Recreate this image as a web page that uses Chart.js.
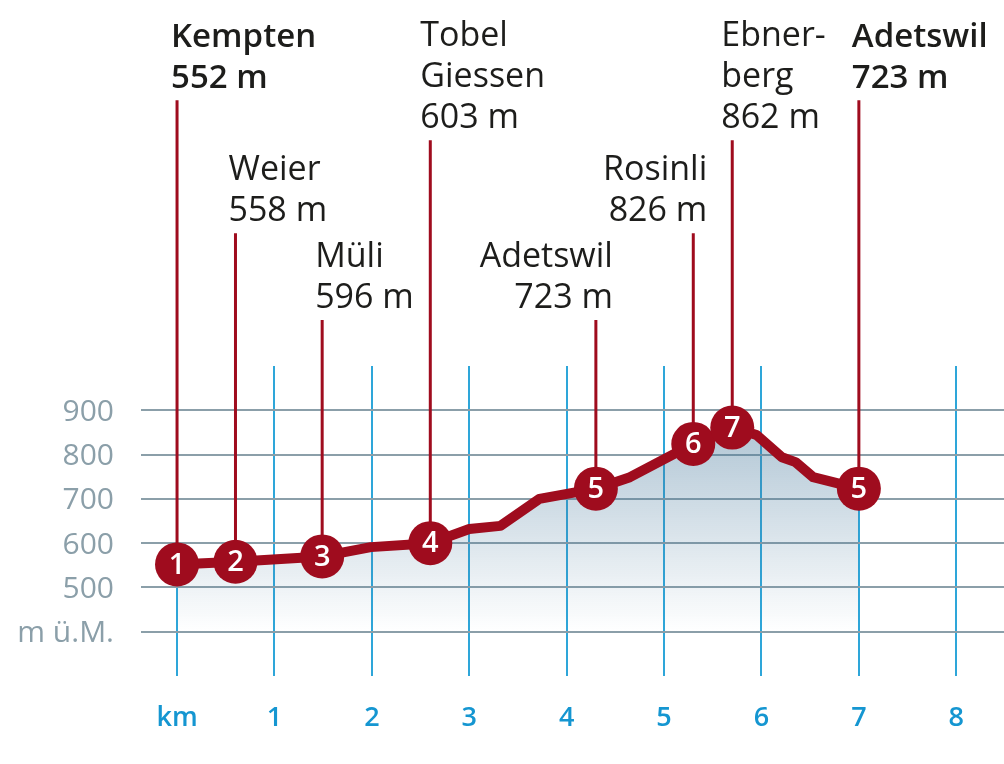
<!DOCTYPE html>
<html lang="de">
<head>
<meta charset="UTF-8">
<title>Höhenprofil Kempten – Adetswil</title>
<script src="https://cdn.jsdelivr.net/npm/chart.js"></script>
<style>
  html, body { margin:0; padding:0; background:#fff; }
  canvas { display:block; }
</style>
</head>
<body>
<canvas id="profile" width="1004" height="764"></canvas>
<script>
// profile line
const profileKm = [0, 0.6, 1.49, 1.99, 2.6, 3.0, 3.32, 3.72, 4.3, 4.65, 5.3, 5.7, 5.95, 6.21, 6.35, 6.53, 7];
const profileM  = [552, 558, 570, 591, 600, 632, 639, 700, 723, 749, 824, 861, 844, 794, 783, 749, 723];

// numbered stops
const stopKm = [0, 0.6, 1.49, 2.6, 4.3, 5.3, 5.7, 7];
const stopM  = [552, 558, 570, 600, 723, 824, 861, 723];
const stopNumbers = ['1', '2', '3', '4', '5', '6', '7', '5'];
const stopNames = [
  ['Kempten', '552 m'],
  ['Weier', '558 m'],
  ['Müli', '596 m'],
  ['Tobel', 'Giessen', '603 m'],
  ['Adetswil', '723 m'],
  ['Rosinli', '826 m'],
  ['Ebner-', 'berg', '862 m'],
  ['Adetswil', '723 m']
];
// how high the thin line of each stop reaches, in scale units
const stemTopM = [1600, 1300, 1104, 1510, 1104, 1300, 1510, 1600];

const kmTicks = ['km', '1', '2', '3', '4', '5', '6', '7', '8'];
const heightTicks = { 400: 'm ü.M.', 500: '500', 600: '600', 700: '700', 800: '800', 900: '900' };

const RED = '#9f0c1e';
const FONT = '"Open Sans", sans-serif';

// label placement relative to the stem top
const labelDx = [-6, -7, -7, -10, 17, 14, -11, -7];
const labelAlign = ['left', 'left', 'left', 'left', 'right', 'right', 'left', 'left'];
const labelBold = [true, false, false, false, false, false, false, true];

const toPoints = (xs, ys) => xs.map((x, i) => ({ x: x, y: ys[i] }));

const stemPoints = stopKm.flatMap((km, i) => [
  { x: km, y: stemTopM[i] },
  { x: km, y: stopM[i] },
  { x: km, y: null }
]);

const stopText = {
  id: 'stopText',
  afterDatasetsDraw(chart) {
    const { ctx, scales: { x, y } } = chart;
    ctx.save();
    // names and heights above the stems
    ctx.fillStyle = '#1d1d1b';
    ctx.textBaseline = 'alphabetic';
    stopNames.forEach((lines, i) => {
      const px = x.getPixelForValue(stopKm[i]) + labelDx[i];
      const bottom = y.getPixelForValue(stemTopM[i]) - 12;
      ctx.font = labelBold[i] ? '600 33px ' + FONT : '400 34px ' + FONT;
      ctx.textAlign = labelAlign[i];
      lines.forEach((line, n) => {
        ctx.fillText(line, px, bottom - (lines.length - 1 - n) * 41);
      });
    });
    // numbers in the circles
    ctx.fillStyle = '#fff';
    ctx.font = '600 29px ' + FONT;
    ctx.textAlign = 'center';
    ctx.textBaseline = 'middle';
    stopNumbers.forEach((n, i) => {
      ctx.fillText(n, x.getPixelForValue(stopKm[i]), y.getPixelForValue(stopM[i]) + 1);
    });
    ctx.restore();
  }
};

new Chart(document.getElementById('profile'), {
  type: 'line',
  plugins: [stopText],
  data: {
    datasets: [
      {
        data: toPoints(stopKm, stopM),
        order: 0,
        showLine: false,
        pointRadius: 22,
        pointBackgroundColor: RED,
        pointBorderWidth: 0
      },
      {
        data: toPoints(profileKm, profileM),
        order: 1,
        borderColor: RED,
        borderWidth: 10,
        borderJoinStyle: 'round',
        pointRadius: 0,
        tension: 0,
        fill: { value: 400 },
        backgroundColor(c) {
          const { ctx, chartArea, scales } = c.chart;
          if (!chartArea) return 'transparent';
          const g = ctx.createLinearGradient(0, scales.y.getPixelForValue(860), 0, scales.y.getPixelForValue(400));
          g.addColorStop(0, 'rgba(70,120,155,0.42)');
          g.addColorStop(1, 'rgba(70,120,155,0)');
          return g;
        }
      },
      {
        data: stemPoints,
        order: 2,
        clip: false,
        borderColor: RED,
        borderWidth: 3,
        pointRadius: 0,
        spanGaps: false
      }
    ]
  },
  options: {
    responsive: false,
    animation: false,
    events: [],
    // autoPadding would shrink the plot to make room for the big circles
    layout: { autoPadding: false, padding: { top: 366, left: 0, right: 0, bottom: 0 } },
    plugins: { legend: { display: false }, tooltip: { enabled: false } },
    scales: {
      x: {
        type: 'linear',
        min: -0.37,
        max: 8.49,
        // the labels must not eat into the plot width
        afterFit(s) { s.height = 88; s.paddingLeft = 0; s.paddingRight = 0; },
        border: { display: false },
        grid: { color: '#2ea6d9', lineWidth: 2, drawTicks: false },
        ticks: {
          stepSize: 1,
          includeBounds: false,
          autoSkip: false,
          maxRotation: 0,
          padding: 26,
          color: '#1596d1',
          font: { family: FONT, size: 27, weight: '600' },
          callback: v => kmTicks[v]
        }
      },
      y: {
        min: 300,
        max: 1000,
        afterFit(s) { s.width = 141; s.paddingTop = 0; s.paddingBottom = 0; },
        border: { display: false },
        grid: {
          drawTicks: false,
          lineWidth: 2,
          color: c => (heightTicks[c.tick.value] ? '#8b9fa9' : 'transparent')
        },
        ticks: {
          stepSize: 100,
          autoSkip: false,
          padding: 27,
          labelOffset: 2,
          color: '#8b9fa9',
          font: { family: FONT, size: 30, weight: '500' },
          callback: v => heightTicks[v] || ''
        }
      }
    }
  }
});
</script>
</body>
</html>
